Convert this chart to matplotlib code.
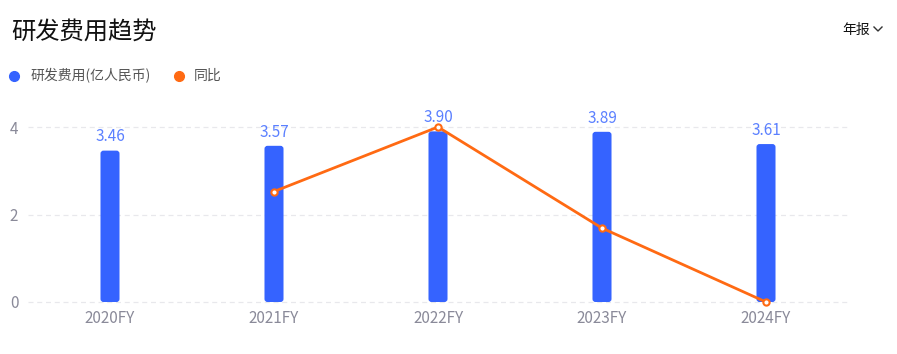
import matplotlib
matplotlib.use("Agg")
import matplotlib.pyplot as plt
from matplotlib.patches import FancyBboxPatch
from matplotlib.lines import Line2D

plt.rcParams['font.family'] = ['Noto Sans CJK SC', 'DejaVu Sans']

years = ['2020FY', '2021FY', '2022FY', '2023FY', '2024FY']
rd_cost = [3.46, 3.57, 3.90, 3.89, 3.61]
yoy_years = ['2021FY', '2022FY', '2023FY', '2024FY']
yoy = [3.18, 9.24, -0.26, -7.20]

blue = '#3563FF'
orange = '#FF6A13'
label_blue = '#5B80FF'
grey = '#8A8A99'

fig = plt.figure(figsize=(8.97, 3.54), dpi=100)
ax = fig.add_axes([28 / 897, 52 / 354, 820 / 897, 192.5 / 354])

ymax = 4.4
x = list(range(len(years)))
bar_w = 0.116
px_x = 1 / 164.0
px_y = 1 / 43.75
for xi, v in zip(x, rd_cost):
    p = FancyBboxPatch((xi - bar_w / 2, 0), bar_w, v,
                       boxstyle="round,pad=0,rounding_size=%f" % (3 * px_x),
                       mutation_aspect=px_y / px_x,
                       facecolor=blue, edgecolor='none', zorder=2)
    ax.add_patch(p)
    ax.text(xi, v + 0.12, '%.2f' % v, ha='center', va='bottom',
            color=label_blue, fontsize=11, zorder=5)

ax.set_xlim(-0.5, len(years) - 0.5)
ax.set_ylim(0, ymax)
ax.set_xticks(x)
ax.set_xticklabels(years)
ax.set_yticks([0, 2, 4])
ax.tick_params(axis='both', length=0, colors=grey, labelsize=11)
ax.tick_params(axis='x', pad=6)
ax.tick_params(axis='y', pad=7)
ax.yaxis.grid(True, color='#E8E8EC', linestyle=(0, (4, 3)), linewidth=0.9, zorder=0)
for gl in ax.get_ygridlines():
    gl.set_clip_on(False)
for s in ax.spines.values():
    s.set_visible(False)

# secondary hidden axis for YoY line
ax2 = ax.twinx()
lo, hi = min(yoy), max(yoy)
per_unit = (hi - lo) / 4.0
ax2.set_ylim(lo, lo + ymax * per_unit)
ax2.set_xlim(ax.get_xlim())
yx = [years.index(y) for y in yoy_years]
ax2.plot(yx, yoy, color=orange, linewidth=2, marker='o', markersize=4.5,
         markerfacecolor='white', markeredgecolor=orange, markeredgewidth=1.5,
         zorder=4, clip_on=False)
ax2.set_yticks([])
for s in ax2.spines.values():
    s.set_visible(False)

# title and header
fig.text(11 / 897, 1 - 32 / 354, '研发费用趋势', fontsize=17.5, color='#111111',
         ha='left', va='center')
fig.text(842 / 897, 1 - 30 / 354, '年报', fontsize=10, color='#111111',
         ha='left', va='center')
fig.lines.append(Line2D([874 / 897, 878 / 897, 882 / 897],
                        [1 - 27 / 354, 1 - 31 / 354, 1 - 27 / 354],
                        transform=fig.transFigure, color='#333333', linewidth=1))

# legend
fig.lines.append(Line2D([14 / 897], [1 - 76 / 354], transform=fig.transFigure,
                        marker='o', markersize=7, color=blue, linestyle='none'))
fig.text(31 / 897, 1 - 76 / 354, '研发费用(亿人民币)', fontsize=10, color='#555555',
         ha='left', va='center')
fig.lines.append(Line2D([179 / 897], [1 - 76 / 354], transform=fig.transFigure,
                        marker='o', markersize=7, color=orange, linestyle='none'))
fig.text(194 / 897, 1 - 76 / 354, '同比', fontsize=10, color='#555555',
         ha='left', va='center')

fig.savefig('out.png', dpi=100)
